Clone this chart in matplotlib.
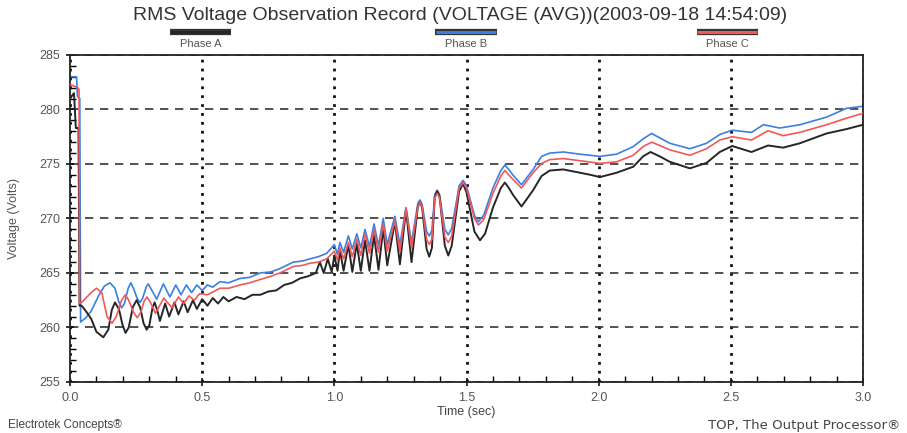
import matplotlib
matplotlib.use("Agg")
import matplotlib.pyplot as plt
from matplotlib.lines import Line2D
from matplotlib.ticker import MultipleLocator

plt.rcParams["font.family"] = ["Liberation Sans", "DejaVu Sans"]

# Phase A (black)
t_a = [0.000, 0.015, 0.022, 0.032, 0.036, 0.044, 0.060, 0.080, 0.100, 0.126,
       0.145, 0.158, 0.170, 0.185, 0.198, 0.210, 0.222, 0.238, 0.252, 0.266,
       0.278, 0.290, 0.300, 0.312, 0.320, 0.330, 0.340, 0.360, 0.375, 0.395,
       0.410, 0.430, 0.445, 0.465, 0.480, 0.500, 0.520, 0.540, 0.560, 0.580,
       0.600, 0.630, 0.660, 0.690, 0.720, 0.750, 0.780, 0.810, 0.840, 0.870,
       0.900, 0.930, 0.945, 0.960, 0.975, 0.990, 1.000, 1.012, 1.021, 1.035,
       1.053, 1.068, 1.085, 1.100, 1.116, 1.133, 1.150, 1.167, 1.185, 1.200,
       1.229, 1.248, 1.271, 1.292, 1.316, 1.324, 1.332, 1.349, 1.359, 1.369,
       1.380, 1.389, 1.398, 1.418, 1.431, 1.444, 1.472, 1.487, 1.500, 1.530,
       1.551, 1.570, 1.600, 1.630, 1.645, 1.660, 1.675, 1.708, 1.752, 1.784,
       1.815, 1.866, 1.929, 1.970, 2.005, 2.068, 2.131, 2.168, 2.196, 2.231,
       2.269, 2.345, 2.408, 2.458, 2.505, 2.578, 2.641, 2.698, 2.761, 2.862,
       2.937, 3.000]
v_a = [281.0, 281.5, 278.3, 278.3, 262.0, 262.0, 261.5, 260.8, 259.6, 259.1,
       259.8, 261.6, 262.3, 261.7, 260.3, 259.5, 260.0, 261.9, 262.5, 261.8,
       260.4, 259.8, 260.2, 261.8, 262.3, 261.6, 260.6, 262.2, 261.0, 262.3,
       261.2, 262.4, 261.4, 262.5, 261.7, 262.6, 262.0, 262.7, 262.2, 262.8,
       262.4, 262.8, 262.6, 263.0, 263.0, 263.3, 263.4, 263.9, 264.1, 264.5,
       264.7, 265.0, 266.0, 265.0, 266.3, 265.1, 266.6, 265.2, 267.1, 265.2,
       267.6, 265.1, 267.7, 265.2, 268.0, 265.2, 268.5, 265.3, 269.1, 265.7,
       269.7, 265.8, 270.8, 266.0, 271.1, 271.5, 271.0, 267.2, 266.5, 267.3,
       272.0, 272.5, 272.0, 267.5, 266.6, 267.5, 272.5, 273.2, 272.4, 268.8,
       268.0, 268.6, 271.0, 272.8, 273.3, 272.8, 272.2, 271.1, 272.6, 273.9,
       274.4, 274.5, 274.2, 274.0, 273.8, 274.2, 274.75, 275.7, 276.1, 275.7,
       275.2, 274.6, 275.1, 276.1, 276.65, 276.1, 276.7, 276.5, 276.9, 277.8,
       278.2, 278.6]

# Phase B (blue)
t_b = [0.000, 0.025, 0.028, 0.037, 0.040, 0.045, 0.060, 0.080, 0.110, 0.130,
       0.151, 0.170, 0.184, 0.195, 0.206, 0.220, 0.230, 0.240, 0.255, 0.265,
       0.275, 0.288, 0.296, 0.328, 0.353, 0.378, 0.400, 0.420, 0.440, 0.460,
       0.480, 0.500, 0.520, 0.540, 0.567, 0.600, 0.643, 0.680, 0.719, 0.760,
       0.794, 0.845, 0.880, 0.908, 0.940, 0.971, 1.000, 1.012, 1.021, 1.035,
       1.053, 1.068, 1.085, 1.100, 1.116, 1.133, 1.150, 1.167, 1.185, 1.200,
       1.229, 1.248, 1.271, 1.292, 1.316, 1.324, 1.332, 1.349, 1.359, 1.369,
       1.380, 1.389, 1.398, 1.418, 1.431, 1.444, 1.472, 1.487, 1.500, 1.530,
       1.545, 1.565, 1.600, 1.630, 1.645, 1.660, 1.675, 1.708, 1.752, 1.784,
       1.815, 1.866, 1.929, 2.005, 2.068, 2.131, 2.168, 2.200, 2.231, 2.269,
       2.345, 2.408, 2.458, 2.505, 2.578, 2.623, 2.685, 2.761, 2.862, 2.937,
       3.000]
v_b = [283.0, 283.0, 281.2, 281.0, 260.5, 260.6, 260.9, 261.5, 263.0, 263.8,
       264.1, 263.6, 262.4, 261.8, 262.2, 263.6, 264.1, 263.6, 262.6, 262.3,
       262.7, 263.7, 264.0, 262.6, 264.0, 262.8, 263.9, 263.0, 263.9, 263.2,
       263.9, 263.4, 263.9, 263.7, 264.2, 264.1, 264.5, 264.6, 265.0, 265.1,
       265.4, 266.0, 266.1, 266.3, 266.5, 266.8, 267.6, 266.7, 267.8, 266.9,
       268.4, 267.2, 268.6, 267.3, 269.0, 267.4, 269.5, 267.5, 270.0, 267.6,
       270.2, 267.6, 271.0, 267.8, 271.4, 271.7, 271.3, 268.8, 268.4, 268.9,
       272.2, 272.6, 272.2, 269.0, 268.5, 269.1, 273.0, 273.5, 273.0, 270.3,
       269.7, 270.3, 272.8, 274.4, 274.9, 274.5, 274.0, 273.1, 274.5, 275.7,
       276.0, 276.1, 275.9, 275.7, 275.9, 276.6, 277.3, 277.8, 277.4, 276.9,
       276.4, 276.9, 277.7, 278.1, 277.9, 278.6, 278.3, 278.6, 279.3, 280.1,
       280.3]

# Phase C (red)
t_c = [0.000, 0.030, 0.034, 0.036, 0.044, 0.080, 0.100, 0.120, 0.140, 0.159,
       0.175, 0.195, 0.209, 0.222, 0.240, 0.254, 0.268, 0.280, 0.291, 0.302,
       0.314, 0.323, 0.355, 0.386, 0.410, 0.430, 0.450, 0.470, 0.490, 0.520,
       0.567, 0.600, 0.643, 0.680, 0.719, 0.760, 0.794, 0.845, 0.880, 0.908,
       0.940, 0.971, 1.000, 1.012, 1.021, 1.035, 1.053, 1.068, 1.085, 1.100,
       1.116, 1.133, 1.150, 1.167, 1.185, 1.200, 1.229, 1.248, 1.271, 1.292,
       1.316, 1.324, 1.332, 1.349, 1.359, 1.369, 1.380, 1.389, 1.398, 1.418,
       1.431, 1.444, 1.472, 1.487, 1.500, 1.530, 1.545, 1.565, 1.600, 1.630,
       1.645, 1.660, 1.675, 1.708, 1.752, 1.784, 1.815, 1.866, 1.929, 2.005,
       2.068, 2.131, 2.168, 2.200, 2.231, 2.269, 2.345, 2.408, 2.458, 2.505,
       2.578, 2.641, 2.698, 2.761, 2.862, 2.937, 3.000]
v_c = [282.3, 282.0, 281.8, 262.2, 262.3, 263.2, 263.6, 263.2, 261.0, 260.4,
       261.0, 262.5, 263.0, 262.5, 261.4, 260.9, 261.4, 262.4, 262.8, 262.4,
       261.8, 261.3, 262.7, 261.8, 262.8, 262.2, 262.9, 262.5, 263.1, 263.0,
       263.6, 263.6, 263.9, 264.1, 264.4, 264.7, 265.0, 265.6, 265.7, 265.9,
       266.0, 266.3, 267.0, 266.2, 267.3, 266.3, 267.8, 266.5, 268.1, 266.6,
       268.6, 266.8, 269.0, 266.9, 269.5, 267.0, 269.8, 267.0, 270.9, 267.3,
       271.1, 271.5, 271.1, 268.1, 267.6, 268.1, 271.9, 272.3, 271.9, 268.3,
       267.8, 268.4, 272.8, 273.3, 272.8, 270.0, 269.4, 269.9, 272.3, 273.9,
       274.4, 274.0, 273.6, 272.8, 274.2, 275.05, 275.4, 275.5, 275.3, 275.06,
       275.2, 275.8, 276.6, 277.0, 276.7, 276.3, 275.8, 276.4, 277.2, 277.5,
       277.2, 278.05, 277.6, 277.9, 278.6, 279.2, 279.65]

phases = ["Phase A", "Phase B", "Phase C"]
colors = ["#262626", "#3b7fe0", "#f2585a"]

fig = plt.figure(figsize=(9.07, 4.33), dpi=100)
ax = fig.add_axes([0.0772, 0.1178, 0.8743, 0.7552])

kw = dict(solid_joinstyle="round", solid_capstyle="round")
ax.plot(t_a, v_a, color=colors[0], lw=1.4, zorder=3, **kw)
ax.plot(t_c, v_c, color=colors[2], lw=1.2, zorder=4, **kw)
ax.plot(t_b, v_b, color=colors[1], lw=1.2, zorder=2, **kw)

ax.set_xlim(0, 3.0)
ax.set_ylim(255, 285)
ax.xaxis.set_major_locator(MultipleLocator(0.5))
ax.xaxis.set_minor_locator(MultipleLocator(0.1))
ax.yaxis.set_major_locator(MultipleLocator(5))
ax.yaxis.set_minor_locator(MultipleLocator(1))
ax.set_xticklabels([f"{v:.1f}" for v in ax.get_xticks()])

ax.xaxis.grid(True, linestyle=(0, (1, 2.2)), color="#111111", lw=2.0)
ax.yaxis.grid(True, linestyle=(0, (5, 4)), color="#333333", lw=1.2)
ax.set_axisbelow(True)

ax.tick_params(which="major", direction="inout", length=6, width=1.1,
               labelsize=9, labelcolor="#555555", pad=4)
ax.tick_params(which="minor", direction="in", length=4, width=1.0)
for s in ax.spines.values():
    s.set_linewidth(1.3)
    s.set_color("#222222")

ax.set_xlabel("Time (sec)", fontsize=9, color="#444444", labelpad=2)
ax.set_ylabel("Voltage (Volts)", fontsize=9, color="#555555", labelpad=14)

fig.text(0.507, 0.965, "RMS Voltage Observation Record (VOLTAGE (AVG))(2003-09-18 14:54:09)",
         ha="center", va="center", fontsize=14, color="#333333")

# legend: line sample above each label
leg_x = [0.221, 0.514, 0.802]
for name, c, lx in zip(phases, colors, leg_x):
    fig.add_artist(Line2D([lx - 0.034, lx + 0.034], [0.925, 0.925],
                          transform=fig.transFigure, color="#333333", lw=4.5,
                          solid_capstyle="butt"))
    fig.add_artist(Line2D([lx - 0.033, lx + 0.033], [0.925, 0.925],
                          transform=fig.transFigure, color=c, lw=2.2,
                          solid_capstyle="butt"))
    fig.text(lx, 0.898, name, ha="center", va="center", fontsize=8, color="#555555")

fig.text(0.009, 0.018, "Electrotek Concepts®", ha="left", va="center",
         fontsize=8.5, color="#444444")
fig.text(0.993, 0.018, "TOP, The Output Processor®", ha="right", va="center",
         fontsize=9.5, color="#444444", family="DejaVu Sans")

fig.savefig("out.png", dpi=100)
